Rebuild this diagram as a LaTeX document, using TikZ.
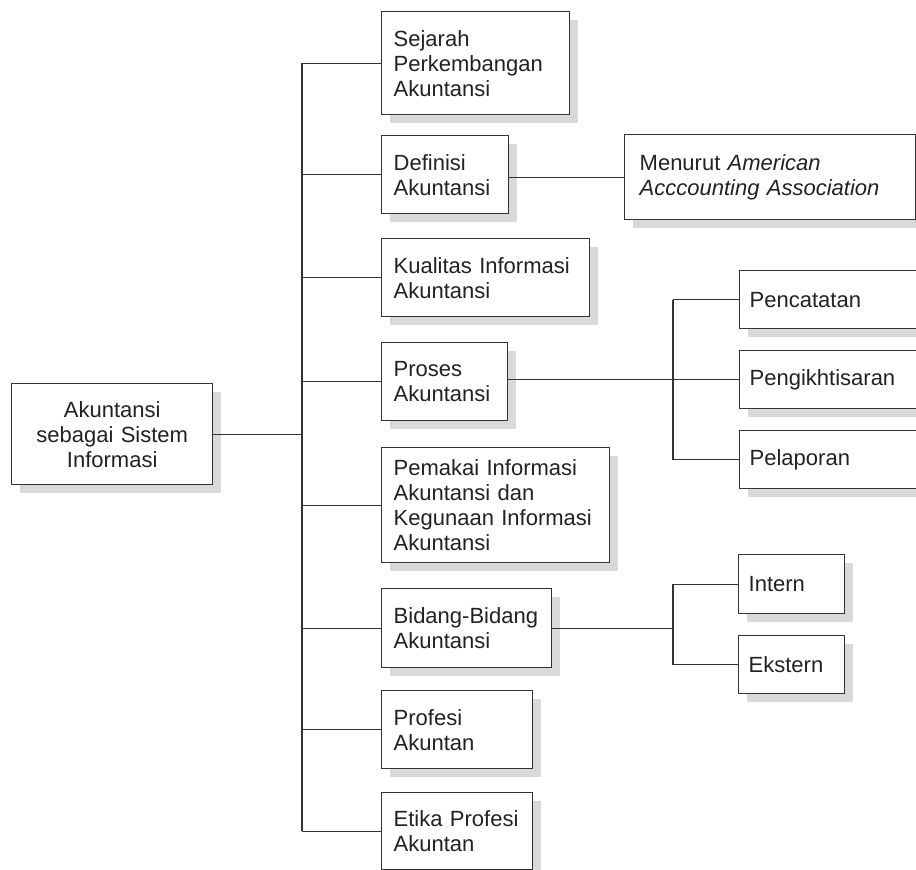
\documentclass[tikz,border=0pt]{standalone}
\usepackage{fontspec}
\setmainfont{Liberation Sans}
\usetikzlibrary{shadows}
\definecolor{shadowgray}{HTML}{D9D9D9}
\definecolor{edge}{HTML}{333333}
\definecolor{ink}{HTML}{222222}
\tikzset{
  box/.style={draw=edge, line width=1.4pt, fill=white, anchor=north west,
    align=left, inner xsep=12pt, inner ysep=0pt, text=ink,
    font=\fontsize{22}{25}\selectfont,
    drop shadow={shadow xshift=8pt, shadow yshift=-8pt, fill=shadowgray, opacity=1}},
  conn/.style={draw=edge, line width=1.2pt}
}
\begin{document}
\begin{tikzpicture}[x=1pt,y=-1pt]
\useasboundingbox (0,0) rectangle (916,870);
\clip (0,0) rectangle (916,870);
\fill[white] (0,0) rectangle (916,870);

% main
\node[box, align=center, minimum width=201pt, minimum height=101pt, text width=177pt] (main) at (11,383)
  {Akuntansi\\sebagai Sistem\\Informasi};

% first level
\node[box, minimum width=188pt, minimum height=103pt, text width=164pt] (sejarah) at (381,11)
  {Sejarah\\Perkembangan\\Akuntansi};
\node[box, minimum width=127pt, minimum height=78pt, text width=103pt] (definisi) at (381,135)
  {Definisi\\Akuntansi};
\node[box, minimum width=208pt, minimum height=78pt, text width=184pt] (kualitas) at (381,238)
  {Kualitas Informasi\\Akuntansi};
\node[box, minimum width=126pt, minimum height=78pt, text width=102pt] (proses) at (381,342)
  {Proses\\Akuntansi};
\node[box, minimum width=228pt, minimum height=115pt, text width=204pt] (pemakai) at (381,447)
  {Pemakai Informasi\\Akuntansi dan\\Kegunaan Informasi\\Akuntansi};
\node[box, minimum width=170pt, minimum height=79pt, text width=146pt] (bidang) at (381,588)
  {Bidang-Bidang\\Akuntansi};
\node[box, minimum width=151pt, minimum height=78pt, text width=127pt] (profesi) at (381,690)
  {Profesi\\Akuntan};
\node[box, minimum width=151pt, minimum height=77pt, text width=127pt] (etika) at (381,792)
  {Etika Profesi\\Akuntan};

% second level
\node[box, inner xsep=15pt, minimum width=291pt, minimum height=85pt, text width=261pt] (menurut) at (624,134)
  {Menurut \textit{American}\\\textit{Acccounting Association}};
\node[box, inner xsep=10pt, minimum width=240pt, minimum height=58pt, text width=220pt] (pencatatan) at (739,270)
  {Pencatatan};
\node[box, inner xsep=10pt, minimum width=240pt, minimum height=58pt, text width=220pt] (pengikh) at (739,350)
  {Pengikhtisaran};
\node[box, inner xsep=10pt, minimum width=240pt, minimum height=58pt, text width=220pt] (pelaporan) at (739,430)
  {Pelaporan};
\node[box, inner xsep=10pt, minimum width=106pt, minimum height=59pt, text width=86pt] (intern) at (738,554)
  {Intern};
\node[box, inner xsep=10pt, minimum width=106pt, minimum height=58pt, text width=86pt] (ekstern) at (738,635)
  {Ekstern};

% trunks
\coordinate (tA) at (302,0);
\coordinate (tB) at (673,0);

\draw[conn] (main.east) -- (main.east -| tA);
\draw[conn] (sejarah.west -| tA) -- (etika.west -| tA);
\foreach \n in {sejarah,definisi,kualitas,proses,pemakai,bidang,profesi,etika}
  \draw[conn] (\n.west -| tA) -- (\n.west);

\draw[conn] (menurut.west -| definisi.east) -- (menurut.west);

\draw[conn] (pengikh.west -| proses.east) -- (pengikh.west);
\draw[conn] (pencatatan.west -| tB) -- (pelaporan.west -| tB);
\draw[conn] (pencatatan.west -| tB) -- (pencatatan.west);
\draw[conn] (pelaporan.west -| tB) -- (pelaporan.west);

\draw[conn] (bidang.east) -- (bidang.east -| tB);
\draw[conn] (intern.west -| tB) -- (ekstern.west -| tB);
\draw[conn] (intern.west -| tB) -- (intern.west);
\draw[conn] (ekstern.west -| tB) -- (ekstern.west);
\end{tikzpicture}
\end{document}
